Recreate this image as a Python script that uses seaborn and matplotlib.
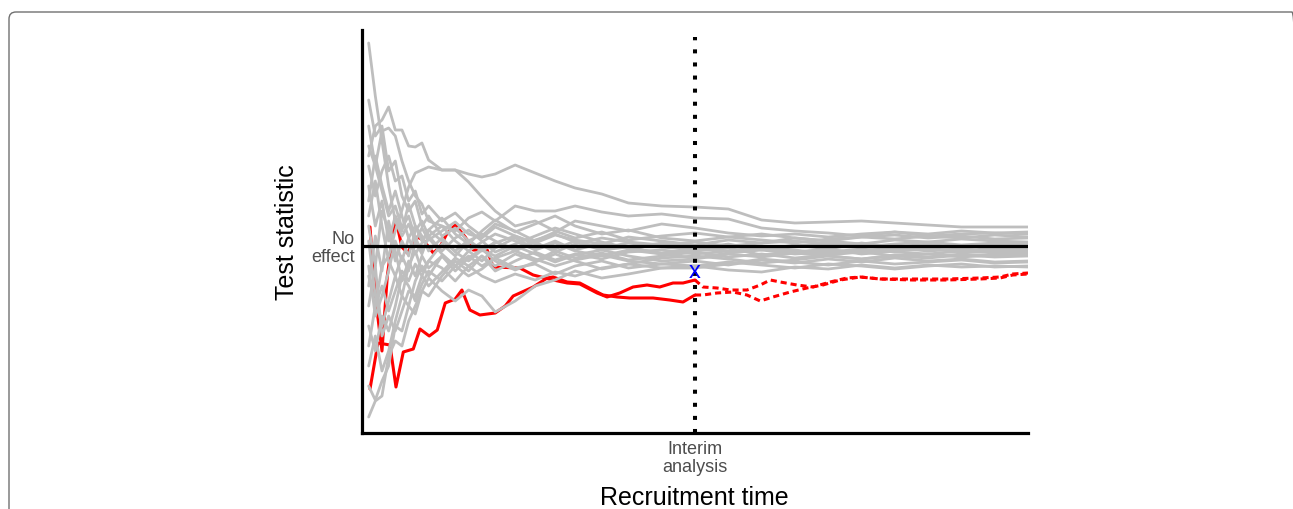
import matplotlib
matplotlib.use("Agg")
import matplotlib.pyplot as plt
import pandas as pd
import seaborn as sns
from matplotlib.patches import FancyBboxPatch
from matplotlib.transforms import IdentityTransform

# recruitment time grid for the gray trials (0..100, interim at 50)
time_grid = [1, 2, 3, 4, 5, 6, 7, 8, 9, 10, 12, 14, 16, 18, 20, 23, 26, 29, 32,
             36, 40, 45, 50, 55, 60, 65, 70, 75, 80, 85, 90, 95, 100]

gray_trials = [
    [20.3, 15.0, 10.5, 6.0, 2.5, 1.0, 2.2, 0.5, 1.8, 0.6, 1.5, 2.4, 1.2, 0.8, 1.9, 1.0, 0.3,
     1.1, 0.6, 0.2, 0.9, 0.5, 0.1, 0.6, 0.3, 0.8, 0.5, 0.2, 0.6, 0.4, 0.7, 0.5, 0.4],
    [14.6, 11.0, 12.0, 7.5, 8.5, 5.0, 3.5, 4.5, 2.0, 3.0, 1.0, 1.8, 0.5, -0.5, 0.4, -0.3, 0.6,
     1.2, 0.4, -0.4, -0.1, -0.8, -0.5, -0.2, -0.9, -0.6, -0.3, -0.8, -0.5, -0.2, -0.6, -0.4, -0.3],
    [9.0, 12.0, 12.6, 13.9, 11.6, 11.6, 10.0, 9.9, 10.3, 8.6, 7.6, 7.6, 6.4, 4.9, 3.5, 2.0, 2.5,
     1.5, 0.8, 1.4, 0.6, 1.0, 1.3, 0.9, 1.2, 0.8, 0.5, 0.9, 0.7, 1.0, 0.8, 1.1, 0.9],
    [-3.0, -6.0, -2.0, -1.0, 1.5, 3.6, 5.9, 7.3, 7.6, 7.9, 7.6, 7.6, 7.2, 6.9, 7.2, 8.1, 7.3,
     6.5, 5.8, 5.2, 4.3, 4.0, 3.9, 3.7, 2.6, 2.3, 2.4, 2.5, 2.3, 2.1, 1.9, 1.9, 1.9],
    [10.0, 8.0, 11.5, 11.8, 11.0, 8.5, 6.5, 5.0, 4.2, 2.5, 2.0, 1.5, 2.8, 3.4, 2.5, 4.0, 3.5,
     3.5, 4.0, 3.4, 3.0, 3.2, 2.8, 2.7, 1.8, 1.5, 1.3, 1.0, 1.4, 1.2, 1.5, 1.3, 1.4],
    [-17.1, -15.5, -15.0, -11.0, -9.5, -10.0, -7.5, -6.0, -4.5, -5.0, -3.0, -1.5, -2.5, -1.0, -2.0, -0.8, -1.5,
     -0.5, -1.2, -0.7, -1.4, -1.0, -0.6, -1.1, -0.8, -1.2, -0.9, -0.6, -1.0, -0.8, -1.1, -0.9, -0.7],
    [-14.0, -15.4, -13.5, -12.0, -8.0, -8.5, -6.0, -6.8, -4.5, -3.2, -4.5, -5.5, -4.4, -5.0, -6.6, -5.5, -4.0,
     -3.4, -2.5, -3.2, -2.8, -2.2, -2.0, -2.4, -2.6, -2.1, -2.3, -1.9, -2.2, -1.9, -2.1, -2.0, -2.1],
    [-12.0, -9.0, -12.5, -10.5, -7.5, -5.0, -6.0, -3.5, -2.0, -3.0, -1.0, -2.0, -0.5, -1.5, -0.2, 0.8, -0.3,
     0.5, -0.4, 0.3, -0.2, -0.7, -0.3, 0.2, -0.4, 0.1, -0.3, 0.3, -0.1, 0.2, -0.2, 0.1, 0.0],
    [-8.0, -10.5, -7.0, -8.5, -6.0, -3.0, -4.0, -5.5, -3.8, -2.5, -3.5, -2.0, -3.0, -2.3, -1.2, -2.2, -1.8,
     -2.8, -2.0, -1.5, -2.2, -1.8, -1.5, -1.9, -1.4, -1.7, -1.3, -1.6, -1.2, -1.5, -1.3, -1.6, -1.5],
    [6.0, 2.0, 4.5, 0.5, 3.0, 1.5, 4.2, 2.0, 0.5, 1.6, 2.8, 1.2, 0.2, 1.5, 2.6, 1.4, 2.2,
     3.0, 2.0, 1.2, 1.6, 0.8, 0.5, 0.9, 0.6, 0.3, 0.7, 0.9, 1.1, 0.8, 1.0, 0.7, 0.8],
    [3.0, 6.5, 2.0, -1.5, -3.0, -1.0, -2.5, 0.5, -0.8, 1.0, -0.5, 0.8, 1.6, 0.5, -0.6, 0.2, 1.0,
     1.8, 1.2, 0.4, -0.2, 0.3, -0.2, -0.5, -0.1, -0.4, -0.8, -0.5, -0.2, -0.5, -0.3, -0.6, -0.5],
    [-4.0, 1.0, -2.5, 2.5, -0.5, -3.5, -1.5, -3.0, -1.0, -2.2, -1.0, -2.5, -1.2, -0.3, -1.5, -2.4, -1.6,
     -0.8, -1.5, -2.3, -1.8, -1.2, -1.0, -1.3, -1.7, -1.4, -1.0, -1.3, -1.0, -1.2, -0.9, -1.1, -1.0],
    [0.5, -5.0, -8.0, -5.5, -3.0, -5.0, -2.0, -0.5, -2.5, -1.5, 0.2, -1.0, 0.5, 1.2, 0.5, -0.5, 0.4,
     -0.6, 0.2, 0.8, 0.4, 0.1, 0.4, 0.0, 0.3, 0.5, 0.2, -0.1, 0.2, 0.4, 0.1, 0.3, 0.2],
    [-10.0, -6.0, -4.0, -6.5, -4.5, -2.5, -3.5, -1.8, -3.0, -4.0, -2.6, -1.2, -2.0, -3.0, -3.6, -2.8, -3.4,
     -2.6, -3.0, -2.2, -1.8, -2.2, -2.2, -1.8, -1.3, -1.6, -1.9, -1.5, -1.8, -1.6, -1.4, -1.7, -1.6],
    [4.5, 9.0, 6.0, 3.5, 5.5, 3.0, 0.8, 2.0, 1.0, -0.5, 0.8, -0.6, -1.5, -0.4, -1.0, 0.0, -0.8,
     -1.6, -0.9, -0.4, -1.0, -1.5, -1.3, -0.8, -1.1, -0.7, -1.0, -1.3, -0.9, -1.1, -0.8, -1.0, -0.9],
    [-6.0, -2.0, -9.0, -7.0, -8.5, -6.5, -4.5, -5.0, -3.0, -1.5, -2.2, -3.5, -2.0, -1.0, -2.5, -1.5, -0.6,
     -1.4, -0.8, -1.3, -0.6, -0.4, -0.8, -0.5, -0.2, -0.6, -0.4, -0.7, -0.5, -0.3, -0.5, -0.2, -0.4],
    [8.0, 5.0, 7.5, 9.0, 6.5, 7.0, 4.5, 5.5, 3.2, 4.0, 2.5, 3.3, 2.0, 1.0, 2.2, 1.5, 0.5,
     1.4, 2.5, 2.0, 1.5, 2.2, 1.8, 1.3, 1.0, 1.2, 0.9, 1.2, 1.4, 1.0, 1.2, 1.3, 1.2],
    [2.0, -2.0, 3.5, 1.5, -1.5, 0.5, -1.0, 1.5, 2.5, 1.0, 2.0, 0.5, -0.5, 0.4, 1.2, 0.5, -0.4,
     0.3, -0.5, -1.0, -0.4, -0.8, -1.2, -0.7, -0.4, -0.8, -0.6, -0.3, -0.6, -0.8, -0.5, -0.7, -0.6],
    [-2.0, -7.0, -5.0, -2.5, 0.5, -1.5, 0.8, -0.8, 0.3, 1.6, 0.5, -0.5, 0.6, -0.4, 0.3, 1.0, 0.2,
     -0.3, 0.5, -0.2, 0.3, -0.1, -0.4, 0.1, -0.2, 0.0, 0.3, 0.0, -0.3, 0.0, -0.2, 0.1, -0.1],
    [12.0, 8.0, 5.5, 3.0, 4.0, 1.8, 3.0, 0.8, -0.5, 0.8, -0.8, -2.0, -1.0, -2.0, -1.2, -0.5, -1.3,
     -2.0, -1.4, -0.9, -1.5, -1.8, -2.0, -1.6, -1.9, -2.2, -1.8, -2.0, -2.3, -2.0, -1.8, -2.1, -2.0],
]

# the two highlighted (red) trials: solid before the interim, dotted after
red_low_t = [1.2, 2.4, 4.2, 5.1, 6.2, 7.7, 8.7, 10.1, 11.3, 12.5, 14.0, 15.0, 16.2, 17.7, 20.0, 21.5,
             22.7, 23.7, 25.7, 27.8, 28.7, 30.8, 32.7, 34.7, 36.2, 38.3, 40.2, 43.7, 46.2, 48.2, 50]
red_low_v = [-14.3, -9.7, -9.9, -14.1, -10.6, -10.3, -8.3, -9.0, -8.4, -5.7, -5.3, -4.4, -6.4, -6.9, -6.7, -6.0,
             -5.0, -4.7, -4.1, -3.2, -3.1, -3.6, -3.7, -4.4, -4.9, -5.1, -5.2, -5.2, -5.4, -5.6, -4.9]
red_low_after_t = [50, 51.2, 53.3, 55.7, 57.8, 59.8, 61.7, 64.3, 66.8, 69.2, 71.8, 74.8, 77.8, 82.7,
                   87.8, 92.8, 95.8, 97.7, 100]
red_low_after_v = [-4.9, -4.9, -4.7, -4.6, -4.9, -5.5, -5.1, -4.6, -4.2, -3.9, -3.4, -3.1, -3.3, -3.3,
                   -3.3, -3.2, -3.1, -2.8, -2.7]

red_high_t = [1.2, 2.0, 3.0, 3.8, 5.0, 6.0, 6.8, 8.3, 9.2, 10.7, 11.7, 12.8, 14.0, 15.5, 16.7, 18.8,
              19.7, 23.7, 25.7, 28.7, 30.8, 32.7, 35.3, 36.8, 38.7, 40.7, 42.8, 44.7, 46.7, 48.2, 50]
red_high_v = [1.9, -5.0, -10.5, -3.0, 2.9, -0.1, -0.7, 0.9, 0.6, -0.7, -0.1, 1.3, 2.1, 0.9, -0.4, -0.4,
              -2.1, -2.2, -2.9, -3.4, -3.7, -3.8, -4.7, -5.1, -4.7, -4.1, -3.9, -4.1, -3.7, -3.7, -3.4]
red_high_after_t = [50, 51.2, 53.3, 55.3, 57.8, 59.8, 61.3, 62.8, 65.3, 67.7, 70.3, 72.8, 74.8, 77.8,
                    82.7, 87.8, 92.8, 95.8, 97.7, 100]
red_high_after_v = [-3.4, -4.1, -4.2, -4.4, -4.4, -3.9, -3.4, -3.6, -3.9, -4.1, -3.6, -3.2, -3.1, -3.3,
                    -3.4, -3.4, -3.3, -3.2, -2.9, -2.8]

interim_time = 50
interim_stat = -2.6

GRAY = "#bebebe"
RED = "#ff0000"

sns.set_style("white")
plt.rcParams["font.family"] = ["Liberation Sans", "DejaVu Sans"]

rows = []
for k, vals in enumerate(gray_trials):
    for t, v in zip(time_grid, vals):
        rows.append({"trial": k, "time": t, "stat": v})
df = pd.DataFrame(rows)

fig = plt.figure(figsize=(12.93, 5.09), dpi=100)
ax = fig.add_axes([362 / 1293, 76 / 509, 666 / 1293, 403 / 509])

dotted_red = (0, (2, 1.3))
sns.lineplot(x=red_low_t, y=red_low_v, ax=ax, color=RED, lw=2.2, zorder=1)
sns.lineplot(x=red_high_t, y=red_high_v, ax=ax, color=RED, lw=2.2, zorder=1)
sns.lineplot(x=red_low_after_t, y=red_low_after_v, ax=ax, color=RED, lw=2.2, ls=dotted_red, zorder=1)
sns.lineplot(x=red_high_after_t, y=red_high_after_v, ax=ax, color=RED, lw=2.2, ls=dotted_red, zorder=1)

sns.lineplot(data=df, x="time", y="stat", units="trial", estimator=None,
             color=GRAY, lw=2.0, zorder=2, ax=ax)

ax.set_xlim(0, 100)
ax.set_ylim(-18.7, 21.6)

ax.axhline(0, color="black", lw=2.3, zorder=3)
ax.vlines(interim_time, -18.7, 20.9, color="black", lw=2.9, ls=(0, (1, 2.25)), zorder=3)
ax.text(interim_time, interim_stat, "x", color="blue", fontsize=17,
        ha="center", va="center", zorder=4)

sns.despine(ax=ax)
for side in ["left", "bottom"]:
    ax.spines[side].set_linewidth(2.3)
    ax.spines[side].set_color("black")

ax.set_xticks([interim_time])
ax.set_xticklabels(["Interim\nanalysis"], linespacing=1.05)
ax.set_yticks([0])
ax.set_yticklabels(["No\neffect"], linespacing=1.05, ha="right")
ax.tick_params(axis="both", length=0, labelsize=13, labelcolor="#4d4d4d")
ax.tick_params(axis="x", pad=6)
ax.tick_params(axis="y", pad=5)
ax.set_xlabel("")
ax.set_ylabel("")

fig.text(694 / 1293, 4 / 509, "Recruitment time", ha="center", va="baseline",
         fontsize=18, color="black")
fig.text(287 / 1293, 1 - 232 / 509, "Test statistic", rotation=90,
         ha="center", va="center", fontsize=18, color="black")

# rounded frame around the panel (cut off at the bottom)
frame = FancyBboxPatch((9, -40), 1290, 509 - 12 + 40,
                       boxstyle="round,pad=0,rounding_size=7",
                       fill=False, edgecolor="#707070", lw=1.0,
                       transform=IdentityTransform())
fig.add_artist(frame)

fig.savefig("out.png", dpi=100)
